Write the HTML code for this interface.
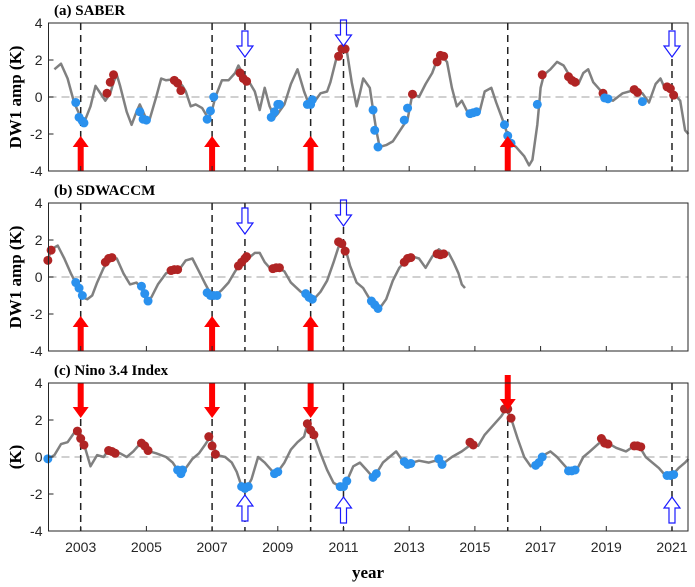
<!DOCTYPE html>
<html><head><meta charset="utf-8">
<style>
html,body{margin:0;padding:0;background:#fff;}
svg{display:block;}
.tk{font-family:"Liberation Sans",sans-serif;font-size:14px;fill:#262626;}
.tt{font-family:"Liberation Serif",serif;font-weight:bold;fill:#000;}
</style></head>
<body>
<svg id="c" width="695" height="587" viewBox="0 0 695 587" xmlns="http://www.w3.org/2000/svg"></svg>
<script>
const xTicks=[2003,2005,2007,2009,2011,2013,2015,2017,2019,2021];
const yTicks=[4,2,0,-2,-4];
const saberX=[2002.2,2002.4,2002.6,2002.8,2003.0,2003.1,2003.3,2003.45,2003.6,2003.75,2003.9,2004.0,2004.1,2004.2,2004.4,2004.55,2004.7,2004.8,2004.9,2005.0,2005.1,2005.3,2005.45,2005.6,2005.8,2006.0,2006.1,2006.2,2006.35,2006.5,2006.7,2006.9,2007.0,2007.1,2007.3,2007.5,2007.7,2007.8,2007.95,2008.1,2008.3,2008.45,2008.6,2008.75,2008.9,2009.0,2009.2,2009.4,2009.6,2009.8,2009.95,2010.1,2010.3,2010.5,2010.6,2010.8,2010.95,2011.1,2011.25,2011.4,2011.5,2011.6,2011.8,2011.9,2012.0,2012.1,2012.3,2012.5,2012.8,2012.95,2013.05,2013.1,2013.3,2013.5,2013.7,2013.85,2014.0,2014.15,2014.3,2014.45,2014.6,2014.8,2015.0,2015.15,2015.3,2015.5,2015.65,2015.9,2016.0,2016.1,2016.25,2016.5,2016.65,2016.75,2016.9,2016.95,2017.0,2017.1,2017.3,2017.5,2017.7,2017.9,2018.05,2018.15,2018.3,2018.45,2018.6,2018.9,2019.0,2019.2,2019.5,2019.9,2020.1,2020.3,2020.5,2020.65,2020.8,2020.9,2021.1,2021.25,2021.4,2021.5];
const saberY=[1.5,1.8,1.0,-0.3,-1.1,-1.4,-0.5,0.6,0.2,-0.2,0.2,0.8,1.2,0.6,-0.8,-1.5,-0.8,-0.4,-0.8,-1.2,-1.2,0,1.0,0.9,0.95,0.8,0.6,0.3,-0.5,-0.4,-0.6,-1.2,-0.7,0,0.9,0.9,1.3,1.7,1.2,0.9,0.3,-0.7,0.5,-0.5,-1.1,-0.9,-0.4,0.7,1.5,0.3,-0.4,-0.3,0.2,0.3,0.8,2.2,2.6,2.5,0.8,-0.5,0.2,1.0,0.5,-0.7,-1.8,-2.7,-2.6,-2.4,-1.6,-1.2,-0.3,0.2,0,0.7,1.3,2.0,2.2,1.9,0.5,-0.5,-0.2,-0.9,-0.85,-0.75,0.3,0.5,-0.3,-1.5,-2.1,-2.5,-2.7,-3.2,-3.7,-3.4,-1.5,-0.5,0.5,1.2,1.5,1.9,1.7,1.1,0.9,0.7,1.3,1.5,0.8,0.2,-0.1,-0.2,0.2,0.4,0.2,-0.3,0.7,1.0,0.4,0.6,0.1,-0.2,-1.8,-2.0];
const saberRedX=[2003.8,2003.9,2004.0,2005.85,2005.95,2006.05,2007.85,2007.95,2008.05,2010.85,2010.95,2011.05,2013.1,2013.85,2013.95,2014.05,2017.05,2017.85,2017.95,2018.05,2018.9,2019.85,2019.95,2020.85,2020.95,2021.05];
const saberRedY=[0.2,0.8,1.2,0.9,0.75,0.35,1.3,1.0,0.85,2.2,2.6,2.6,0.15,1.9,2.25,2.2,1.2,1.1,0.9,0.8,0.2,0.4,0.25,0.55,0.45,0.1];
const saberBlueX=[2002.85,2002.95,2003.05,2003.1,2004.8,2004.9,2005.0,2006.85,2006.95,2007.05,2008.8,2008.9,2009.0,2009.05,2009.9,2010.0,2010.05,2011.9,2011.95,2012.05,2012.85,2012.95,2014.85,2014.95,2015.05,2015.9,2016.0,2016.1,2016.9,2018.95,2019.05,2020.1];
const saberBlueY=[-0.3,-1.1,-1.3,-1.4,-0.8,-1.2,-1.25,-1.2,-0.75,0,-1.1,-0.8,-0.4,-0.4,-0.4,-0.4,-0.15,-0.7,-1.8,-2.7,-1.25,-0.6,-0.9,-0.85,-0.8,-1.5,-2.1,-2.5,-0.4,-0.05,-0.1,-0.25];

const sdX=[2002.0,2002.1,2002.3,2002.5,2002.7,2002.9,2003.05,2003.2,2003.35,2003.5,2003.7,2003.9,2004.1,2004.3,2004.5,2004.7,2004.85,2005.0,2005.15,2005.35,2005.6,2005.8,2006.0,2006.2,2006.4,2006.6,2006.8,2006.95,2007.1,2007.3,2007.5,2007.7,2007.9,2008.1,2008.3,2008.45,2008.6,2008.8,2009.0,2009.2,2009.4,2009.7,2009.9,2010.1,2010.3,2010.5,2010.7,2010.9,2011.05,2011.2,2011.4,2011.6,2011.8,2012.0,2012.1,2012.3,2012.5,2012.7,2012.9,2013.1,2013.3,2013.5,2013.7,2013.9,2014.05,2014.2,2014.35,2014.5,2014.6,2014.7];
const sdY=[0.9,1.5,1.7,1.0,0.2,-0.5,-1.1,-1.2,-1.0,-0.3,0.5,1.0,1.0,0.2,-0.4,-0.3,-0.6,-1.3,-1.1,-0.4,0.2,0.35,0.4,0.9,1.0,0.3,-0.4,-0.9,-1.0,-0.7,-0.3,0.3,0.8,1.0,1.3,1.3,0.8,0.4,0.5,0.3,-0.3,-0.8,-1.0,-1.2,-0.8,-0.2,0.8,1.9,1.6,0.6,-0.3,-0.6,-1.2,-1.5,-1.7,-1.2,-0.2,0.5,0.9,1.1,1.0,0.5,1.1,1.5,1.3,1.3,0.8,0.2,-0.4,-0.6];
const sdRedX=[2002.0,2002.1,2003.75,2003.85,2003.95,2005.75,2005.85,2005.95,2007.8,2007.9,2008.0,2008.05,2008.85,2008.95,2009.05,2010.85,2010.95,2011.05,2012.85,2012.95,2013.05,2013.85,2013.95,2014.05];
const sdRedY=[0.9,1.45,0.8,1.0,1.05,0.35,0.4,0.4,0.6,0.8,1.0,1.1,0.45,0.5,0.5,1.9,1.8,1.4,0.8,1.0,1.05,1.25,1.2,1.25];
const sdBlueX=[2002.85,2002.95,2003.05,2004.85,2004.95,2005.05,2006.85,2006.95,2007.05,2007.15,2009.85,2009.95,2010.05,2011.85,2011.95,2012.05];
const sdBlueY=[-0.3,-0.6,-1.0,-0.5,-0.9,-1.3,-0.85,-1.0,-1.0,-1.0,-0.9,-1.1,-1.2,-1.3,-1.5,-1.7];

const ninoX=[2002.0,2002.2,2002.4,2002.6,2002.8,2002.9,2003.0,2003.1,2003.3,2003.5,2003.7,2003.85,2004.0,2004.2,2004.4,2004.6,2004.8,2004.95,2005.1,2005.3,2005.6,2005.8,2005.95,2006.05,2006.2,2006.4,2006.6,2006.8,2006.95,2007.05,2007.15,2007.4,2007.6,2007.75,2007.9,2008.05,2008.2,2008.4,2008.6,2008.8,2008.9,2009.0,2009.2,2009.4,2009.6,2009.8,2009.9,2010.0,2010.1,2010.3,2010.5,2010.7,2010.9,2011.0,2011.1,2011.3,2011.5,2011.7,2011.9,2012.0,2012.2,2012.4,2012.6,2012.8,2012.95,2013.1,2013.3,2013.6,2013.8,2014.0,2014.3,2014.6,2014.9,2015.1,2015.3,2015.5,2015.8,2015.95,2016.1,2016.3,2016.5,2016.7,2016.9,2017.1,2017.3,2017.5,2017.7,2017.9,2018.1,2018.3,2018.5,2018.75,2018.95,2019.1,2019.3,2019.6,2019.85,2020.0,2020.2,2020.4,2020.6,2020.8,2021.0,2021.2,2021.4,2021.5];
const ninoY=[-0.1,0.1,0.7,0.8,1.3,1.4,1.0,0.7,-0.5,0.1,0.0,0.4,0.3,0.2,0.0,0.3,0.7,0.75,0.3,0.2,0.0,-0.3,-0.7,-0.95,-0.6,-0.1,0.2,0.7,1.1,0.6,0.1,0.0,-0.3,-0.8,-1.6,-1.7,-1.2,0.0,-0.3,-0.7,-0.9,-0.8,-0.3,0.4,0.8,1.1,1.8,1.4,1.2,0.2,-0.7,-1.4,-1.6,-1.6,-1.3,-0.5,-0.3,-0.7,-1.1,-0.9,-0.3,0.0,0.3,-0.2,-0.35,-0.3,-0.2,-0.3,-0.2,-0.4,0.0,0.3,0.7,0.6,1.2,1.6,2.2,2.6,2.1,1.0,0.0,-0.5,-0.3,0.1,0.3,0.0,-0.4,-0.8,-0.7,0.0,0.3,0.7,1.0,0.7,0.5,0.3,0.6,0.6,0.0,-0.3,-0.6,-1.0,-1.0,-0.6,-0.3,-0.1];
const ninoRedX=[2002.9,2003.0,2003.1,2003.85,2003.95,2004.05,2004.85,2004.95,2005.05,2006.9,2007.0,2007.1,2009.9,2010.0,2010.1,2014.85,2014.95,2015.9,2016.0,2016.1,2018.85,2018.95,2019.05,2019.85,2019.95,2020.05];
const ninoRedY=[1.4,1.0,0.65,0.35,0.3,0.2,0.75,0.6,0.35,1.1,0.6,0.15,1.8,1.45,1.2,0.8,0.65,2.6,2.6,2.1,1.0,0.75,0.7,0.6,0.6,0.55];
const ninoBlueX=[2002.0,2005.95,2006.05,2006.1,2007.9,2008.0,2008.1,2008.9,2009.0,2010.9,2011.0,2011.1,2011.9,2012.0,2012.85,2012.95,2013.05,2013.9,2014.0,2016.85,2016.95,2017.05,2017.85,2017.95,2018.05,2020.85,2020.95,2021.05];
const ninoBlueY=[-0.1,-0.7,-0.9,-0.7,-1.6,-1.7,-1.6,-0.9,-0.8,-1.6,-1.6,-1.3,-1.1,-0.9,-0.25,-0.4,-0.35,-0.1,-0.4,-0.45,-0.3,0.0,-0.75,-0.75,-0.7,-1.0,-1.0,-0.95];

const vlinesAll=[2003,2007,2008,2010,2011,2016,2021];
const vlinesB=[2003,2007,2008,2010,2011];

const NS="http://www.w3.org/2000/svg";
const svg=document.getElementById('c');
const L=48.5,R=688,X0=2002.02,PX=32.85;
function sx(v){return L+(v-X0)*PX;}
function mk(tag,attrs,parent){const e=document.createElementNS(NS,tag);for(const k in attrs)e.setAttribute(k,attrs[k]);(parent||svg).appendChild(e);return e;}

const panels=[
 {top:23,title:'(a) SABER',ylab:'DW1 amp (K)',name:'saber',x:saberX,y:saberY,rx:saberRedX,ry:saberRedY,bx:saberBlueX,by:saberBlueY,vl:vlinesAll,
  red:[[2003,'up',136],[2007,'up',136],[2010,'up',136],[2016,'up',136]],blue:[[2008,'down',31],[2011,'down',20],[2021,'down',31]]},
 {top:203,title:'(b) SDWACCM',ylab:'DW1 amp (K)',name:'sdwaccm',x:sdX,y:sdY,rx:sdRedX,ry:sdRedY,bx:sdBlueX,by:sdBlueY,vl:vlinesB,
  red:[[2003,'up',316],[2007,'up',316],[2010,'up',316]],blue:[[2008,'down',208],[2011,'down',200]]},
 {top:383,title:'(c) Nino 3.4 Index',ylab:'(K)',name:'nino',x:ninoX,y:ninoY,rx:ninoRedX,ry:ninoRedY,bx:ninoBlueX,by:ninoBlueY,vl:vlinesAll,
  red:[[2003,'down',383],[2007,'down',383],[2010,'down',383],[2016,'down',375]],blue:[[2008,'up',495],[2011,'up',497],[2021,'up',497]]}
];

panels.forEach((p,pi)=>{
  const g=mk('g',{});
  
  
  const H=148;
  const sy=v=>p.top+H/2-v*(H/8);
  const z=mk('line',{x1:L,x2:R,y1:sy(0),y2:sy(0),stroke:'#c0c0c0','stroke-width':1.5,'stroke-dasharray':'8,5'},g);
  
  
  p.vl.forEach(v=>{
    const l=mk('line',{x1:sx(v),x2:sx(v),y1:p.top,y2:p.top+H,stroke:'#222','stroke-width':1.5,'stroke-dasharray':'7,5'},g);
    
    
  });
  let d='';p.x.forEach((v,i)=>{d+=(i?'L':'M')+sx(v).toFixed(1)+','+sy(p.y[i]).toFixed(1);});
  const ln=mk('path',{d:d,fill:'none',stroke:'#808080','stroke-width':2.5,'stroke-linejoin':'round'},g);
  
  
  p.rx.forEach((v,i)=>{
    const c=mk('circle',{cx:sx(v),cy:sy(p.ry[i]),r:4.5,fill:'#b02424'},g);
    
    
  });
  p.bx.forEach((v,i)=>{
    const c=mk('circle',{cx:sx(v),cy:sy(p.by[i]),r:4.5,fill:'#2a91ee'},g);
    
    
  });
  function arrow(xv,dir,y0,len,fill,stroke){
    const cx=sx(xv),sw=3,hw=8,hh=11;
    let pts;
    if(dir==='up'){pts=[[cx,y0],[cx+hw,y0+hh],[cx+sw,y0+hh],[cx+sw,y0+len],[cx-sw,y0+len],[cx-sw,y0+hh],[cx-hw,y0+hh]];}
    else{pts=[[cx,y0+len],[cx+hw,y0+len-hh],[cx+sw,y0+len-hh],[cx+sw,y0],[cx-sw,y0],[cx-sw,y0+len-hh],[cx-hw,y0+len-hh]];}
    const a=mk('polygon',{points:pts.map(q=>q.join(',')).join(' '),fill:fill,stroke:stroke,'stroke-width':1.2},g);
    
    
  }
  p.red.forEach(a=>arrow(a[0],a[1],a[2],35,'#ff0000','none'));
  p.blue.forEach(a=>arrow(a[0],a[1],a[2],26,'#ffffff','#1a1aff'));
  const f=mk('rect',{x:L,y:p.top,width:R-L,height:H,fill:'none',stroke:'#262626','stroke-width':1},g);
  
  
  yTicks.forEach(t=>{
    mk('line',{x1:L,x2:L+5,y1:sy(t),y2:sy(t),stroke:'#262626'},g);
    const tx=mk('text',{x:L-6,y:sy(t)+5,'text-anchor':'end',class:'tk'},g);
    tx.textContent=t;
    
    
  });
  xTicks.forEach(t=>{
    mk('line',{x1:sx(t),x2:sx(t),y1:p.top+H,y2:p.top+H-5,stroke:'#262626'},g);
    if(pi===2){
      const tx=mk('text',{x:sx(t),y:p.top+H+21,'text-anchor':'middle',class:'tk'},g);
      tx.textContent=t;
      
      
    }
  });
  const ti=mk('text',{x:54,y:p.top-8,class:'tt','font-size':15},g);
  ti.textContent=p.title;
  
  
  const yl=mk('text',{x:0,y:0,class:'tt','font-size':17,'text-anchor':'middle',transform:'translate(21,'+(p.top+H/2)+') rotate(-90)'},g);
  yl.textContent=p.ylab;
  
  
});
const xl=mk('text',{x:368,y:578,class:'tt','font-size':17,'text-anchor':'middle'});
xl.textContent='year';


</script>
</body></html>
